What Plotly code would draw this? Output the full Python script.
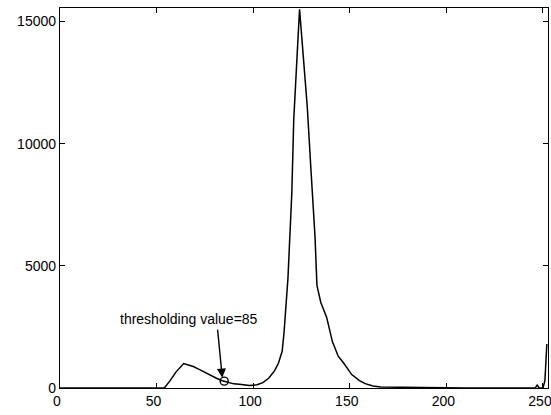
import plotly.graph_objects as go

# Gray level histogram
gray_levels = [0, 54, 57, 60, 64, 66, 69, 72, 75, 78, 81, 84, 87, 90, 94, 98, 102, 105,
               108, 111, 113, 115, 116, 118, 120, 121, 123, 124, 126, 128, 130, 132,
               133, 135, 138, 141, 144, 147, 151, 155, 158, 162, 166, 175, 190, 200,
               210, 246, 247, 248, 250, 251, 252]
pixel_counts = [0, 0, 300, 650, 1000, 960, 880, 760, 630, 500, 400, 300, 220, 170, 140, 100, 130, 220,
                400, 700, 1000, 1500, 2300, 4500, 8000, 11000, 14000, 15500, 13500, 11500, 8800, 6200,
                4200, 3500, 2900, 1900, 1300, 1000, 550, 300, 180, 80, 40, 30, 20, 0,
                0, 0, 120, 0, 0, 300, 1800]

threshold = 85
threshold_count = 280
label_text = "thresholding value=85"

x_ticks = [0, 50, 100, 150, 200, 250]
y_ticks = [0, 5000, 10000, 15000]

font_family = "Liberation Sans, Arial"

fig = go.Figure()
fig.add_trace(go.Scatter(x=gray_levels, y=pixel_counts, mode="lines",
                         line=dict(color="black", width=1.5), showlegend=False))
fig.add_trace(go.Scatter(x=[threshold], y=[threshold_count], mode="markers",
                         marker=dict(symbol="circle-open", size=8, color="black",
                                     line=dict(width=1.4)), showlegend=False))

# arrow
fig.add_annotation(x=threshold - 1, y=420, ax=threshold - 3.5, ay=2450,
                   xref="x", yref="y", axref="x", ayref="y",
                   text="", showarrow=True, arrowhead=2, arrowsize=1.3,
                   arrowwidth=1.4, arrowcolor="black")
# label
fig.add_annotation(x=67, y=2830, xref="x", yref="y", text=label_text,
                   showarrow=False, font=dict(size=14, color="black", family=font_family))

axis_common = dict(showgrid=False, zeroline=False, showline=True, linecolor="black",
                   linewidth=1.3, mirror="ticks", ticks="inside", ticklen=5,
                   tickcolor="black", tickwidth=1, ticklabeloverflow="allow",
                   automargin=False,
                   tickfont=dict(size=14, color="black", family=font_family))

fig.update_xaxes(range=[0, 252.6], tickvals=x_ticks, ticktext=[str(v) for v in x_ticks],
                 ticklabelshift=-3, **axis_common)
fig.update_yaxes(range=[0, 15550], tickvals=y_ticks, ticktext=[str(v) for v in y_ticks],
                 **axis_common)

fig.update_layout(width=551, height=415, margin=dict(l=60, r=3, t=8, b=27),
                  paper_bgcolor="white", plot_bgcolor="white")

# remove the page's default body margin / scrollbars so the figure fills the window
fig.write_html("out.html", config={"displayModeBar": False},
               post_script="document.body.style.margin='0';document.body.style.overflow='hidden';")
